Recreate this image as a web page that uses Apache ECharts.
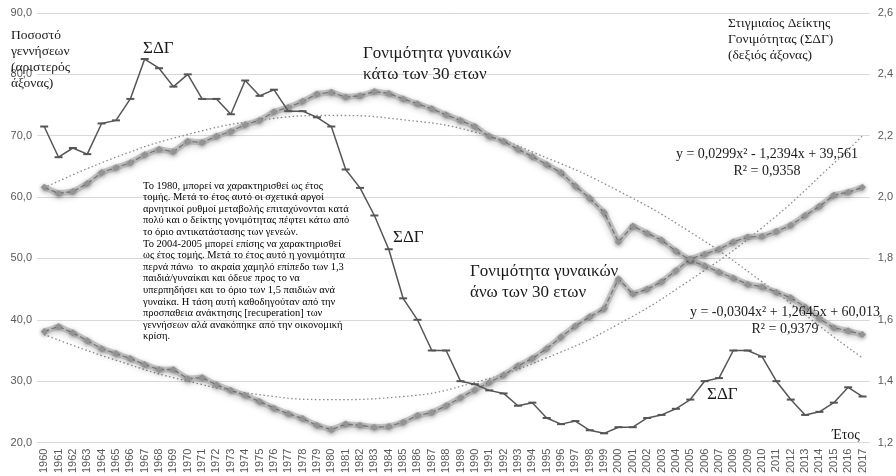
<!DOCTYPE html>
<html>
<head>
<meta charset="utf-8">
<script src="https://cdn.jsdelivr.net/npm/echarts@6/dist/echarts.min.js"></script>
<style>
  html, body { margin: 0; padding: 0; background: #fff; }
  #chart { width: 896px; height: 476px; }
</style>
</head>
<body>
<div id="chart"></div>
<script>
// years on the x axis
const years = ['1960','1961','1962','1963','1964','1965','1966','1967','1968','1969',
  '1970','1971','1972','1973','1974','1975','1976','1977','1978','1979',
  '1980','1981','1982','1983','1984','1985','1986','1987','1988','1989',
  '1990','1991','1992','1993','1994','1995','1996','1997','1998','1999',
  '2000','2001','2002','2003','2004','2005','2006','2007','2008','2009',
  '2010','2011','2012','2013','2014','2015','2016','2017']

// ΣΔΓ (right axis)
const tfr = [2.23, 2.13, 2.16, 2.14, 2.24, 2.25, 2.32, 2.45, 2.42, 2.36,
  2.40, 2.32, 2.32, 2.27, 2.38, 2.33, 2.35, 2.28, 2.28, 2.26,
  2.23, 2.09, 2.03, 1.94, 1.83, 1.67, 1.60, 1.50, 1.50, 1.40,
  1.39, 1.37, 1.36, 1.32, 1.33, 1.28, 1.26, 1.27, 1.24, 1.23,
  1.25, 1.25, 1.28, 1.29, 1.31, 1.34, 1.40, 1.41, 1.50, 1.50,
  1.48, 1.40, 1.34, 1.29, 1.30, 1.33, 1.38, 1.35]

// share of births, women under 30 (left axis)
const under30 = [61.6, 60.6, 60.9, 62.2, 64.0, 64.8, 65.6, 66.9, 67.8, 67.4,
  69.1, 68.9, 69.9, 70.7, 71.8, 72.5, 73.9, 74.6, 75.6, 76.8,
  77.1, 76.3, 76.5, 77.2, 76.9, 76.0, 75.2, 74.4, 73.4, 72.5,
  71.5, 69.9, 69.1, 67.8, 66.6, 65.3, 64.0, 61.8, 59.8, 57.5,
  52.7, 55.3, 54.1, 53.0, 51.2, 49.7, 48.8, 47.8, 46.8, 45.8,
  45.4, 44.5, 43.6, 42.1, 40.2, 38.7, 38.2, 37.6]

// share of births, women over 30 (left axis)
const over30 = [38.1, 38.9, 37.9, 36.6, 35.3, 34.5, 33.7, 32.7, 31.9, 31.9,
  30.4, 30.6, 29.4, 28.5, 27.7, 26.7, 25.6, 24.7, 23.9, 22.8,
  22.1, 23.0, 22.8, 22.5, 22.6, 23.3, 24.4, 24.9, 26.0, 27.3,
  28.6, 29.8, 31.0, 32.5, 33.7, 35.3, 37.2, 39.0, 40.5, 41.8,
  46.7, 44.2, 45.0, 46.2, 48.0, 49.9, 50.7, 51.5, 52.7, 53.5,
  53.6, 54.4, 55.4, 57.0, 58.5, 60.3, 60.8, 61.6]

// polynomial trend lines at a few years
const trendYears = ['1960','1965','1970','1975','1980','1985','1990','1995','2000','2005','2010','2015','2017']
const under30Trend = [61.5, 66.5, 70.2, 72.5, 73.3, 72.6, 70.6, 66.4, 61.0, 54.3, 46.2, 37.2, 33.8]
const over30Trend = [37.6, 33.4, 30.0, 27.8, 27.0, 27.5, 29.8, 33.8, 39.3, 46.5, 55.0, 65.5, 70.0]

const leftTicks = { min: 20, max: 90, interval: 10 }
const rightTicks = { min: 1.2, max: 2.6, interval: 0.2 }

const note = [
  'Το 1980, μπορεί να χαρακτηρισθεί ως έτος',
  'τομής. Μετά το έτος αυτό οι σχετικά αργοί',
  'αρνητικοί ρυθμοί μεταβολής επιταχύνονται κατά',
  'πολύ και ο δείκτης γονιμότητας πέφτει κάτω από',
  'το όριο αντικατάστασης των γενεών.',
  'Το 2004-2005 μπορεί επίσης να χαρακτηρισθεί',
  'ως έτος τομής. Μετά το έτος αυτό η γονιμότητα',
  'περνά πάνω  το ακραία χαμηλό επίπεδο των 1,3',
  'παιδιά/γυναίκαι και όδευε προς το να',
  'υπερπηδήσει και το όριο των 1,5 παιδιών ανά',
  'γυναίκα. Η τάση αυτή καθοδηγούταν από την',
  'προσπαθεια ανάκτησης [recuperation] των',
  'γεννήσεων αλά ανακόπηκε από την οικονομική',
  'κρίση.'
]

const serif = '"Liberation Serif", "DejaVu Serif", serif'
const sans = '"Liberation Sans", Arial, sans-serif'
const comma = d => v => v.toFixed(d).replace('.', ',')

const chart = echarts.init(document.getElementById('chart'))

function txt(x, y, text, size, extra) {
  return {
    type: 'text', x, y, z: 100,
    style: Object.assign({ text, font: size + 'px ' + serif, fill: '#1a1a1a', textVerticalAlign: 'middle' }, extra || {})
  }
}

const fertLine = {
  type: 'line', yAxisIndex: 0, symbol: 'diamond', symbolSize: 7,
  lineStyle: { color: '#7a7a7a', width: 1.3, type: 'dashed', shadowColor: 'rgba(0,0,0,0.35)', shadowBlur: 4, shadowOffsetY: 1 },
  itemStyle: { color: '#939393', shadowColor: 'rgba(0,0,0,0.45)', shadowBlur: 4, shadowOffsetY: 1 },
  z: 3
}
const halo = {
  type: 'line', yAxisIndex: 0, symbol: 'none', silent: true,
  lineStyle: { color: 'rgba(180,180,180,0.7)', width: 6, shadowColor: 'rgba(0,0,0,0.25)', shadowBlur: 6, shadowOffsetY: 2 },
  z: 2
}
const trend = {
  type: 'line', yAxisIndex: 0, symbol: 'none', smooth: true, silent: true,
  lineStyle: { color: '#8a8a8a', width: 1.3, type: [1.5, 2.5] },
  z: 1
}

chart.setOption({
  animation: false,
  grid: { left: 37, right: 26, top: 13, bottom: 32 },
  xAxis: {
    type: 'category', data: years, boundaryGap: true,
    axisLine: { show: false }, axisTick: { show: false },
    axisLabel: { rotate: 90, interval: 0, margin: 6, color: '#595959', fontSize: 11, fontFamily: sans }
  },
  yAxis: [
    {
      type: 'value', ...leftTicks,
      axisLine: { show: false }, axisTick: { show: false },
      splitLine: { lineStyle: { color: '#d9d9d9', width: 1 } },
      axisLabel: { formatter: comma(1), color: '#595959', fontSize: 11, fontFamily: sans, margin: 5 }
    },
    {
      type: 'value', ...rightTicks,
      axisLine: { show: false }, axisTick: { show: false }, splitLine: { show: false },
      axisLabel: { formatter: comma(1), color: '#595959', fontSize: 11, fontFamily: sans, margin: 8 }
    }
  ],
  series: [
    { ...trend, name: 'trend30-', data: trendYears.map((y, i) => [y, under30Trend[i]]) },
    { ...trend, name: 'trend30+', data: trendYears.map((y, i) => [y, over30Trend[i]]) },
    { ...halo, data: under30 },
    { ...halo, data: over30 },
    { ...fertLine, name: 'κάτω των 30', data: under30 },
    { ...fertLine, name: 'άνω των 30', data: over30 },
    {
      name: 'ΣΔΓ', type: 'line', yAxisIndex: 1, data: tfr, z: 5,
      symbol: 'rect', symbolSize: [8, 2],
      lineStyle: { color: '#555555', width: 1.5 },
      itemStyle: { color: '#555555' }
    }
  ],
  graphic: [
    txt(11, 27, 'Ποσοστό\nγεννήσεων\n(αριστερός\nάξονας)', 13.5, { textVerticalAlign: 'top', lineHeight: 16 }),
    txt(728, 15, 'Στιγμιαίος Δείκτης\nΓονιμότητας (ΣΔΓ)\n(δεξιός άξονας)', 13.5, { textVerticalAlign: 'top', lineHeight: 16 }),
    txt(143, 49, 'ΣΔΓ', 17),
    txt(393, 238, 'ΣΔΓ', 17),
    txt(707, 395, 'ΣΔΓ', 17),
    txt(363, 43, 'Γονιμότητα γυναικών\nκάτω των 30 ετων', 17, { textVerticalAlign: 'top', lineHeight: 21 }),
    txt(470, 261, 'Γονιμότητα γυναικών\nάνω των 30 ετων', 17, { textVerticalAlign: 'top', lineHeight: 21 }),
    txt(767, 146, 'y = 0,0299x² - 1,2394x + 39,561\nR² = 0,9358', 14, { textAlign: 'center', textVerticalAlign: 'top', lineHeight: 17 }),
    txt(785, 304, 'y = -0,0304x² + 1,2645x + 60,013\nR² = 0,9379', 14, { textAlign: 'center', textVerticalAlign: 'top', lineHeight: 17 }),
    txt(832, 435, 'Έτος', 14),
    txt(143, 180, note.join('\n'), 10.5, { textVerticalAlign: 'top', lineHeight: 11.6, fill: '#000' })
  ]
})
</script>
</body>
</html>
